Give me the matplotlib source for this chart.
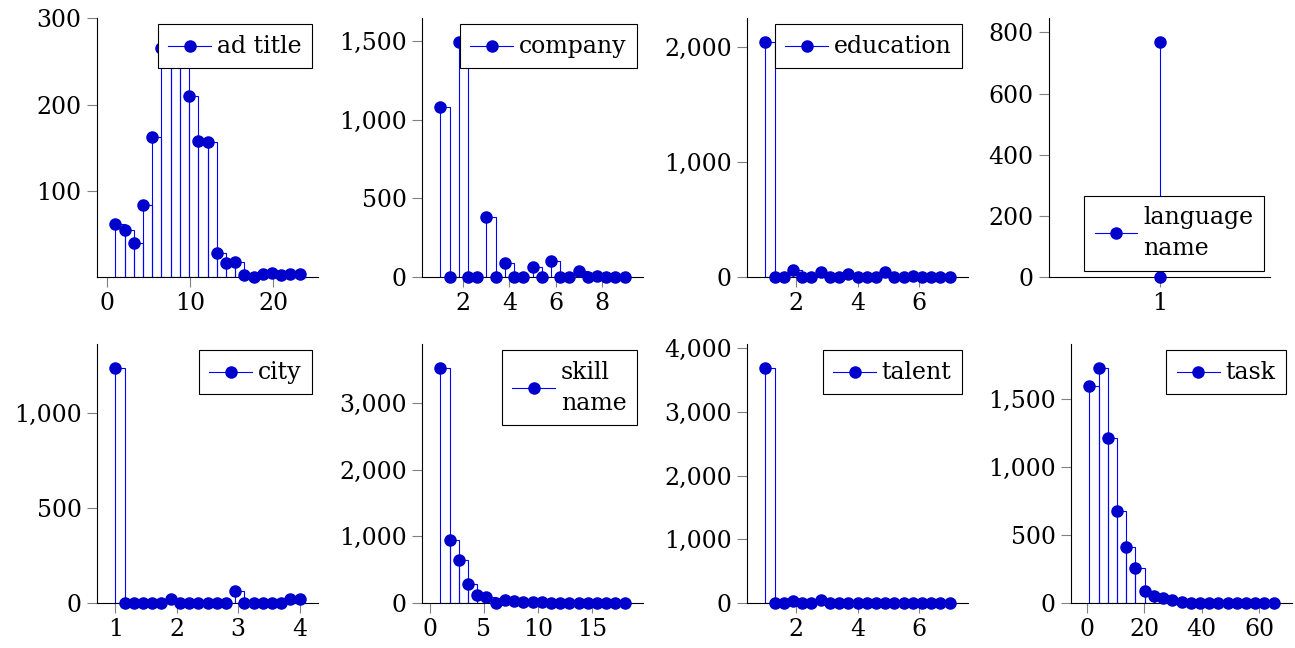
import numpy as np
import matplotlib
matplotlib.use('Agg')
import matplotlib.pyplot as plt
from matplotlib.lines import Line2D
from matplotlib.ticker import FuncFormatter

plt.rcParams['font.family'] = ['DejaVu Serif']
plt.rcParams['font.size'] = 17

LINE = '#0000ff'
MARK = '#0000cc'

# histogram counts per field: (first edge, last edge), one value per edge
# (the last value just closes the final interval)
ad_title_range = (1, 23.2)
ad_title = [62, 54, 40, 83, 162, 266, 273, 262, 210, 158, 157, 28, 16, 17, 2, 0, 3, 5, 2, 4, 4]

company_range = (1, 9)
company = [1080, 0, 1495, 0, 0, 384, 0, 92, 0, 0, 62, 0, 101, 0, 0, 37, 0, 8, 0, 0, 0]

education_range = (1, 7)
education = [2043, 0, 0, 60, 0, 0, 41, 0, 0, 23, 0, 0, 0, 41, 0, 0, 5, 0, 0, 0, 0]

language_range = (1, 1)
language = [770, 0]

city_range = (1, 4)
city = [1240, 0, 0, 0, 0, 0, 19, 0, 0, 0, 0, 0, 0, 62, 0, 0, 0, 0, 0, 20, 19]

skill_range = (1, 18)
skill = [3530, 945, 650, 280, 120, 85, 0, 45, 25, 15, 10, 8, 6, 5, 5, 4, 4, 3, 3, 2, 2]

talent_range = (1, 7)
talent = [3700, 0, 0, 35, 0, 0, 40, 0, 0, 5, 0, 5, 0, 0, 0, 0, 0, 0, 0, 0, 0]

task_range = (1, 65)
task = [1600, 1735, 1215, 680, 410, 255, 87, 50, 36, 21, 5, 3, 2, 1, 1, 0, 0, 0, 0, 0, 0]

panels = [
    # data, range, label, xticks, yticks, legend loc, axes box in px (left, top)
    (ad_title, ad_title_range, 'ad title', [0, 10, 20], [100, 200, 300], 'upper right', (97, 18)),
    (company, company_range, 'company', [2, 4, 6, 8], [0, 500, 1000, 1500], 'upper right', (422, 18)),
    (education, education_range, 'education', [2, 4, 6], [0, 1000, 2000], 'upper right', (747, 18)),
    (language, language_range, 'language\nname', [1], [0, 200, 400, 600, 800], 'lower right', (1049, 18)),
    (city, city_range, 'city', [1, 2, 3, 4], [0, 500, 1000], 'upper right', (97, 344)),
    (skill, skill_range, 'skill\nname', [0, 5, 10, 15], [0, 1000, 2000, 3000], 'upper right', (422, 344)),
    (talent, talent_range, 'talent', [2, 4, 6], [0, 1000, 2000, 3000, 4000], 'upper right', (747, 344)),
    (task, task_range, 'task', [0, 20, 40, 60], [0, 500, 1000, 1500], 'upper right', (1071, 344)),
]

W, H = 1295, 648
AW, AH = 221, 259

fig = plt.figure(figsize=(W / 100, H / 100), dpi=100)

for counts, (lo, hi), label, xt, yt, loc, (px, py) in panels:
    ax = fig.add_axes([px / W, 1 - (py + AH) / H, AW / W, AH / H])
    x = np.linspace(lo, hi, len(counts))

    # intervals as open outlines, marker at the left edge of each
    ax.bar(x[:-1], counts[:-1], width=np.diff(x), align='edge', fill=False,
           edgecolor=LINE, linewidth=0.8, zorder=2)
    ax.plot(x, counts, ls='none', marker='o', ms=8, mfc=MARK, mec=MARK,
            clip_on=False, zorder=3)

    span = hi - lo
    if span > 0:
        ax.set_xlim(lo - 0.1 * span, hi + 0.1 * span)
    else:
        ax.set_xlim(lo - 0.5, lo + 0.5)
    ax.set_ylim(0, 1.1 * max(counts))
    ax.set_xticks(xt)
    ax.set_yticks(yt)
    ax.yaxis.set_major_formatter(FuncFormatter(lambda v, p: f'{v:,.0f}'))
    ax.xaxis.set_major_formatter(FuncFormatter(lambda v, p: f'{v:g}'))

    for s in ['top', 'right']:
        ax.spines[s].set_visible(False)
    for s in ['left', 'bottom']:
        ax.spines[s].set_color('black')
        ax.spines[s].set_linewidth(0.8)
    ax.tick_params(direction='out', length=7, width=0.8, color='#808080',
                   labelcolor='black', pad=4)
    ax.set_facecolor('none')

    handle = Line2D([], [], color=LINE, lw=0.8, marker='o', ms=8, mfc=MARK, mec=MARK)
    leg = ax.legend([handle], [label], loc=loc, fancybox=False, framealpha=1,
                    edgecolor='black', borderaxespad=0.25, borderpad=0.45,
                    handlelength=1.8, handletextpad=0.25)
    leg.get_frame().set_linewidth(0.8)
    leg.set_zorder(5)
    if '\n' in label:
        leg.get_texts()[0].set_linespacing(1.45)
    # keep the handle centred next to two-line labels
    for col in leg._legend_handle_box.get_children():
        for row in col.get_children():
            row.align = 'center'

fig.savefig('out.png', dpi=100)
